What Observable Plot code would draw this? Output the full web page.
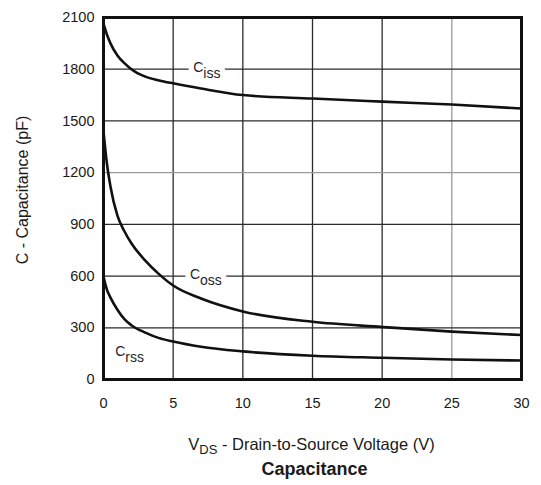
<!DOCTYPE html>
<html>
<head>
<meta charset="utf-8">
<script src="https://cdn.jsdelivr.net/npm/d3@7"></script>
<script src="https://cdn.jsdelivr.net/npm/@observablehq/plot@0.6"></script>
<style>
  html, body { margin: 0; padding: 0; background: #fff; }
  body { position: relative; width: 541px; height: 485px; font-family: "Liberation Sans", Arial, sans-serif; color: #1a1a1a; }
  #chart { position: absolute; left: 0; top: 0; }
  .xlabel { position: absolute; left: 0; width: 541px; text-align: center; white-space: nowrap; }
  #xtitle { top: 436px; padding-left: 82px; box-sizing: border-box; font-size: 16.5px; line-height: 16px; }
  #xtitle sub { font-size: 13px; vertical-align: -4px; line-height: 0; }
  #caption { top: 460px; padding-left: 88px; box-sizing: border-box; font-size: 18px; line-height: 18px; font-weight: bold; }
  #ytitle { position: absolute; left: 23px; top: 190px; width: 0; height: 0; }
  #ytitle span { position: absolute; left: 0; top: 0; transform: translate(-50%, -50%) rotate(-90deg); white-space: nowrap; font-size: 16px; line-height: 16px; }
</style>
</head>
<body>
<div id="chart"></div>
<div id="ytitle"><span>C - Capacitance (pF)</span></div>
<div id="xtitle" class="xlabel">V<sub>DS</sub> - Drain-to-Source Voltage (V)</div>
<div id="caption" class="xlabel">Capacitance</div>
<script>
// Drain-to-source voltage (V) at which the capacitances are listed
const voltage = [0, 0.25, 0.5, 1, 1.5, 2, 3, 4, 5, 7, 10, 15, 20, 25, 30];
// Input, output and reverse transfer capacitance (pF)
const ciss = [2065, 2000, 1950, 1880, 1835, 1800, 1757, 1735, 1718, 1688, 1650, 1630, 1612, 1595, 1572];
const coss = [1440, 1250, 1120, 950, 860, 790, 690, 610, 545, 470, 395, 335, 305, 278, 258];
const crss = [595, 520, 475, 405, 350, 315, 272, 240, 220, 190, 163, 138, 126, 116, 110];

const xTicks = [0, 5, 10, 15, 20, 25, 30];
const yTicks = [0, 300, 600, 900, 1200, 1500, 1800, 2100];
const lightX = [25];
const lightY = [1200];

// Curve name tags: capital letter, subscript, and where they sit on the chart
const tagMain = ["C", "C", "C"];
const tagSub = ["iss", "oss", "rss"];
const tagV = [6.45, 6.2, 0.85];
const tagC = [1800, 600, 150];

const series = [["Ciss", ciss], ["Coss", coss], ["Crss", crss]];
const rows = series.flatMap(([name, vals]) =>
  voltage.map((v, i) => ({ series: name, v, c: vals[i] }))
);
const tags = tagMain.map((m, i) => ({ main: m, sub: tagSub[i], v: tagV[i], c: tagC[i] }));

const plot = Plot.plot({
  width: 541,
  height: 420,
  marginLeft: 103,
  marginRight: 20,
  marginTop: 17,
  marginBottom: 41,
  style: { fontFamily: "Liberation Sans, Arial, sans-serif", fontSize: "14.5px", color: "#1a1a1a", background: "#fff" },
  x: { domain: [0, 30] },
  y: { domain: [0, 2100] },
  marks: [
    Plot.ruleX(xTicks.filter(t => !lightX.includes(t)), { stroke: "#2b2b2b", strokeWidth: 1.3 }),
    Plot.ruleX(lightX, { stroke: "#9a9a9a", strokeWidth: 1.3 }),
    Plot.ruleY(yTicks.filter(t => !lightY.includes(t)), { stroke: "#2b2b2b", strokeWidth: 1.3 }),
    Plot.ruleY(lightY, { stroke: "#9a9a9a", strokeWidth: 1.3 }),
    // white knock-out behind the curve names
    Plot.text(tags, { x: "v", y: "c", text: "main", textAnchor: "start", dy: -2, fontSize: 14, fill: "white", stroke: "white", strokeWidth: 11 }),
    Plot.text(tags, { x: "v", y: "c", text: "sub", textAnchor: "start", dx: 10, dy: 4, fontSize: 14, fill: "white", stroke: "white", strokeWidth: 11 }),
    Plot.text(tags, { x: "v", y: "c", text: "main", textAnchor: "start", dy: -2, fontSize: 14, fill: "#1e1e2a" }),
    Plot.text(tags, { x: "v", y: "c", text: "sub", textAnchor: "start", dx: 10, dy: 4, fontSize: 14, fill: "#1e1e2a" }),
    Plot.line(rows, { x: "v", y: "c", z: "series", curve: "monotone-x", stroke: "#111", strokeWidth: 2.6 }),
    Plot.frame({ stroke: "#111", strokeWidth: 3 }),
    Plot.axisX(xTicks, { tickSize: 0, tickPadding: 18, label: null, tickFormat: d => String(d) }),
    Plot.axisY(yTicks, { tickSize: 0, tickPadding: 9, label: null, tickFormat: d => String(d) })
  ]
});

document.getElementById("chart").appendChild(plot);
</script>
</body>
</html>
